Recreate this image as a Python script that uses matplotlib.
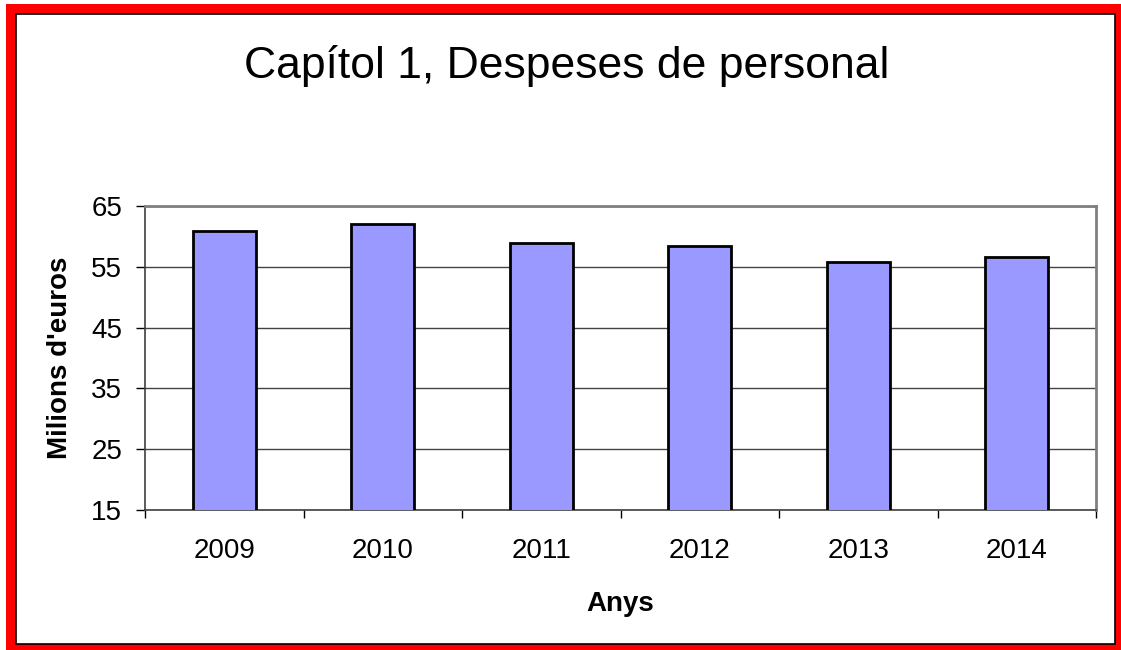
import matplotlib
matplotlib.use("Agg")
import matplotlib.pyplot as plt
from matplotlib.patches import Rectangle

years = ["2009", "2010", "2011", "2012", "2013", "2014"]
despeses = [60.9, 62.0, 58.9, 58.4, 55.8, 56.6]
yticks = [15, 25, 35, 45, 55, 65]

plt.rcParams["font.family"] = ["Liberation Sans", "DejaVu Sans"]

W, H = 1121, 650
fig = plt.figure(figsize=(W / 100, H / 100), dpi=100)
fig.patch.set_facecolor("white")

# red frame (pixel coords -> figure fraction)
def px_rect(x0, y0, x1, y1, **kw):
    fig.patches.append(Rectangle((x0 / W, 1 - y1 / H), (x1 - x0) / W, (y1 - y0) / H,
                                 transform=fig.transFigure, **kw))

red = "#ff0000"
px_rect(6, 4, 1121, 14, color=red, lw=0)
px_rect(6, 4, 16, 650, color=red, lw=0)
px_rect(1115, 4, 1121, 650, color=red, lw=0)
px_rect(6, 644, 1121, 650, color=red, lw=0)
px_rect(16, 14, 1115, 644, fill=False, edgecolor="black", lw=1.2)

ax = fig.add_axes([145 / W, 140 / H, 951 / W, 304 / H])
x = range(len(years))
ax.bar(x, despeses, width=0.4, bottom=0, color="#9999ff", edgecolor="black", lw=2, zorder=3)
ax.set_xlim(-0.5, len(years) - 0.5)
ax.set_ylim(15, 65)
ax.set_yticks(yticks)
ax.yaxis.grid(True, color="#444444", lw=1, zorder=0)
ax.set_xticks(list(x))
ax.set_xticklabels(years)
ax.set_xticks([i - 0.5 for i in range(len(years) + 1)], minor=True)
ax.tick_params(axis="x", which="major", length=0, pad=20, labelsize=20)
ax.tick_params(axis="x", which="minor", length=6, width=1, direction="out")
ax.tick_params(axis="y", length=6.5, width=1, pad=10, labelsize=20)
for s in ["top", "right"]:
    ax.spines[s].set_color("#808080")
    ax.spines[s].set_linewidth(2)
for s in ["left", "bottom"]:
    ax.spines[s].set_color("#404040")
    ax.spines[s].set_linewidth(1.2)

ax.set_ylabel("Milions d'euros", fontsize=20, fontweight="bold")
ax.yaxis.set_label_coords(-72 / 951, 0.5)
ax.set_xlabel("Anys", fontsize=20, fontweight="bold")
ax.xaxis.set_label_coords(0.5, -81 / 304)
fig.text(567 / W, 1 - 66 / H, "Capítol 1, Despeses de personal", ha="center", va="center", fontsize=32)

fig.savefig("out.png", dpi=100)
